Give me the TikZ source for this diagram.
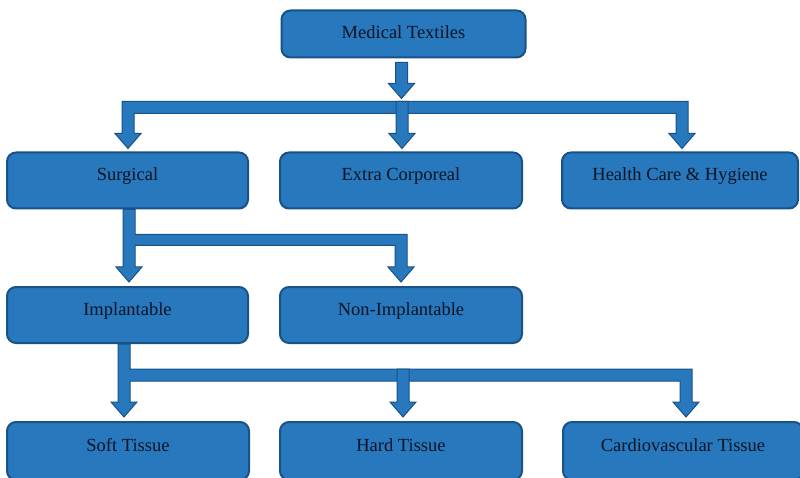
\documentclass[tikz,border=0pt]{standalone}
\usepackage{fontspec}
\setmainfont{Liberation Serif}
\usetikzlibrary{calc}

\definecolor{boxfill}{RGB}{40,120,190}
\definecolor{boxline}{RGB}{24,82,135}
\definecolor{labeltext}{RGB}{12,20,35}

% sizes of the block connectors
\newcommand\hshaft{6pt}   % half width of a shaft
\newcommand\hhead{13pt}   % half width of an arrow head
\newcommand\lhead{15pt}   % length of an arrow head
\newcommand\wbar{11pt}    % thickness of a branching bar

\tikzset{
  catbox/.style={draw=boxline, line width=2pt, fill=boxfill,
    rounded corners=9pt, minimum width=#1, minimum height=56pt,
    inner sep=0pt, font=\fontsize{18.5}{22}\selectfont, text=labeltext,
    text height=13pt, text depth=13pt},
  catbox/.default=241pt,
  blockarrow/.style={fill=boxfill, draw=boxline, line width=1pt, line join=miter},
}

% straight block arrow: starts at the height of #1, ends with its tip at #2
\newcommand\blockdown[2]{%
  \path[blockarrow] let \p1=#1, \p2=#2 in
    (\x2-\hshaft,\y1) -- (\x2+\hshaft,\y1) -- (\x2+\hshaft,\y2+\lhead)
    -- (\x2+\hhead,\y2+\lhead) -- (\x2,\y2) -- (\x2-\hhead,\y2+\lhead)
    -- (\x2-\hshaft,\y2+\lhead) -- cycle;}

\begin{document}
\begin{tikzpicture}[x=1pt, y=-1pt]
  \useasboundingbox (0,0) rectangle (800,478);
  \clip (0,0) rectangle (800,478);

  % categories
  \node[catbox=244pt, minimum height=47pt, text depth=4pt] (mt) at (403.5,34) {Medical Textiles};

  \node[catbox] (surg)   at (127.5,180.5) {Surgical};
  \node[catbox=242pt] (extra)  at (401,180.5) {Extra Corporeal};
  \node[catbox=236pt] (health) at (680,180.5) {Health Care \& Hygiene};

  \node[catbox] (impl)    at (127.5,315) {Implantable};
  \node[catbox=242pt] (nonimpl) at (401,315) {Non-Implantable};

  \node[catbox=242pt, minimum height=58pt] (soft)   at (128,451) {Soft Tissue};
  \node[catbox=242pt, minimum height=58pt] (hard)   at (401,451) {Hard Tissue};
  \node[catbox=240pt, minimum height=58pt] (cardio) at (683,451) {Cardiovascular Tissue};

  % heights of the branching bars
  \coordinate (bar1) at ($(mt.south)+(0,43)$);
  \coordinate (bar2) at ($(surg.south)+(0,25)$);
  \coordinate (bar3) at ($(impl.south)+(0,25)$);

  % Medical Textiles -> first bar
  \blockdown{($(mt.south)+(0,4)$)}{($(bar1)+(-2,-3)$)}

  % first bar with its outer arrows to Surgical and Health Care
  \path[blockarrow] let \p1=($(surg.north)+(0.5,-3)$), \p2=($(health.north)+(2,-3)$), \p3=(bar1) in
    (\x1-\hshaft,\y3) -- (\x2+\hshaft,\y3) -- (\x2+\hshaft,\y2+\lhead)
    -- (\x2+\hhead,\y2+\lhead) -- (\x2,\y2) -- (\x2-\hhead,\y2+\lhead)
    -- (\x2-\hshaft,\y2+\lhead) -- (\x2-\hshaft,\y3-\wbar-1pt)
    -- (\x1+\hshaft,\y3-\wbar-1pt) -- (\x1+\hshaft,\y1+\lhead)
    -- (\x1+\hhead,\y1+\lhead) -- (\x1,\y1) -- (\x1-\hhead,\y1+\lhead)
    -- (\x1-\hshaft,\y1+\lhead) -- cycle;
  \blockdown{(bar1)}{($(extra.north)+(1,-3)$)}

  % Surgical -> Implantable, Non-Implantable
  \path[blockarrow] let \p1=($(impl.north)+(1.5,-4)$), \p2=($(nonimpl.north)+(0,-4)$), \p3=(bar2), \p4=(surg.south) in
    (\x1-\hshaft,\y4) -- (\x1+\hshaft,\y4) -- (\x1+\hshaft,\y3)
    -- (\x2+\hshaft,\y3) -- (\x2+\hshaft,\y2+\lhead)
    -- (\x2+\hhead,\y2+\lhead) -- (\x2,\y2) -- (\x2-\hhead,\y2+\lhead)
    -- (\x2-\hshaft,\y2+\lhead) -- (\x2-\hshaft,\y3-\wbar)
    -- (\x1+\hshaft,\y3-\wbar) -- (\x1+\hshaft,\y1+\lhead)
    -- (\x1+\hhead,\y1+\lhead) -- (\x1,\y1) -- (\x1-\hhead,\y1+\lhead)
    -- (\x1-\hshaft,\y1+\lhead) -- cycle;

  % Implantable -> Soft, Hard, Cardiovascular Tissue
  \path[blockarrow] let \p1=($(soft.north)+(-4,-4)$), \p2=($(cardio.north)+(3,-4)$), \p3=(bar3), \p4=(impl.south) in
    (\x1-\hshaft,\y4) -- (\x1+\hshaft,\y4) -- (\x1+\hshaft,\y3)
    -- (\x2+\hshaft,\y3) -- (\x2+\hshaft,\y2+\lhead)
    -- (\x2+\hhead,\y2+\lhead) -- (\x2,\y2) -- (\x2-\hhead,\y2+\lhead)
    -- (\x2-\hshaft,\y2+\lhead) -- (\x2-\hshaft,\y3-\wbar-1pt)
    -- (\x1+\hshaft,\y3-\wbar-1pt) -- (\x1+\hshaft,\y1+\lhead)
    -- (\x1+\hhead,\y1+\lhead) -- (\x1,\y1) -- (\x1-\hhead,\y1+\lhead)
    -- (\x1-\hshaft,\y1+\lhead) -- cycle;
  \blockdown{(bar3)}{($(hard.north)+(2,-4)$)}
\end{tikzpicture}
\end{document}
